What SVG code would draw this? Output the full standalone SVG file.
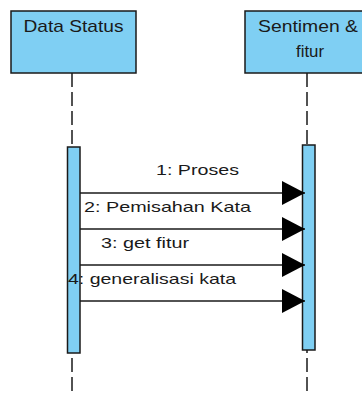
<svg xmlns="http://www.w3.org/2000/svg" width="362" height="394" viewBox="0 0 362 394">
<defs>
<style>
.box{fill:#7FCFF3;stroke:#1a1a1a;stroke-width:1.5}
.life{stroke:#1a1a1a;stroke-width:1.5;stroke-dasharray:14 5;fill:none}
.msg{stroke:#1a1a1a;stroke-width:1.5;fill:none}
.title{font-family:"Liberation Sans",Arial,sans-serif;font-size:17px;fill:#1a1a1a}
.lbl{font-family:"Liberation Sans",Arial,sans-serif;font-size:15px;fill:#1a1a1a}
</style>
<marker id="arr" viewBox="0 0 23 24" refX="23" refY="12" markerWidth="23" markerHeight="24" markerUnits="userSpaceOnUse" orient="auto">
<path d="M0,0 L23,12 L0,24 Z" fill="#000"/>
</marker>
</defs>
<g id="lifeline-data-status">
<line class="life" x1="72" y1="73" x2="72" y2="394"/>
<rect class="box" x="11" y="11" width="125" height="62"/>
<text class="title" x="73.5" y="31.5" text-anchor="middle" textLength="100" lengthAdjust="spacingAndGlyphs">Data Status</text>
<rect class="box" x="67.5" y="147" width="12.5" height="206"/>
</g>
<g id="lifeline-sentimen-fitur">
<line class="life" x1="307" y1="73" x2="307" y2="394"/>
<rect class="box" x="245" y="11" width="125" height="62"/>
<text class="title" x="308" y="31.5" text-anchor="middle" textLength="100" lengthAdjust="spacingAndGlyphs">Sentimen &amp;</text>
<text class="title" x="310" y="57" text-anchor="middle" textLength="28" lengthAdjust="spacingAndGlyphs">fitur</text>
<rect class="box" x="302.5" y="145" width="12.5" height="205"/>
</g>
<g id="connectors">
<line class="msg" x1="80" y1="193" x2="305" y2="193" marker-end="url(#arr)"/>
<text class="lbl" x="156" y="175" textLength="83" lengthAdjust="spacingAndGlyphs">1: Proses</text>
<line class="msg" x1="80" y1="229" x2="305" y2="229" marker-end="url(#arr)"/>
<text class="lbl" x="84" y="211.5" textLength="167" lengthAdjust="spacingAndGlyphs">2: Pemisahan Kata</text>
<line class="msg" x1="80" y1="265" x2="305" y2="265" marker-end="url(#arr)"/>
<text class="lbl" x="101" y="247.5" textLength="88" lengthAdjust="spacingAndGlyphs">3: get fitur</text>
<line class="msg" x1="80" y1="301" x2="305" y2="301" marker-end="url(#arr)"/>
<text class="lbl" x="68" y="283.5" textLength="168" lengthAdjust="spacingAndGlyphs">4: generalisasi kata</text>
</g>
</svg>
